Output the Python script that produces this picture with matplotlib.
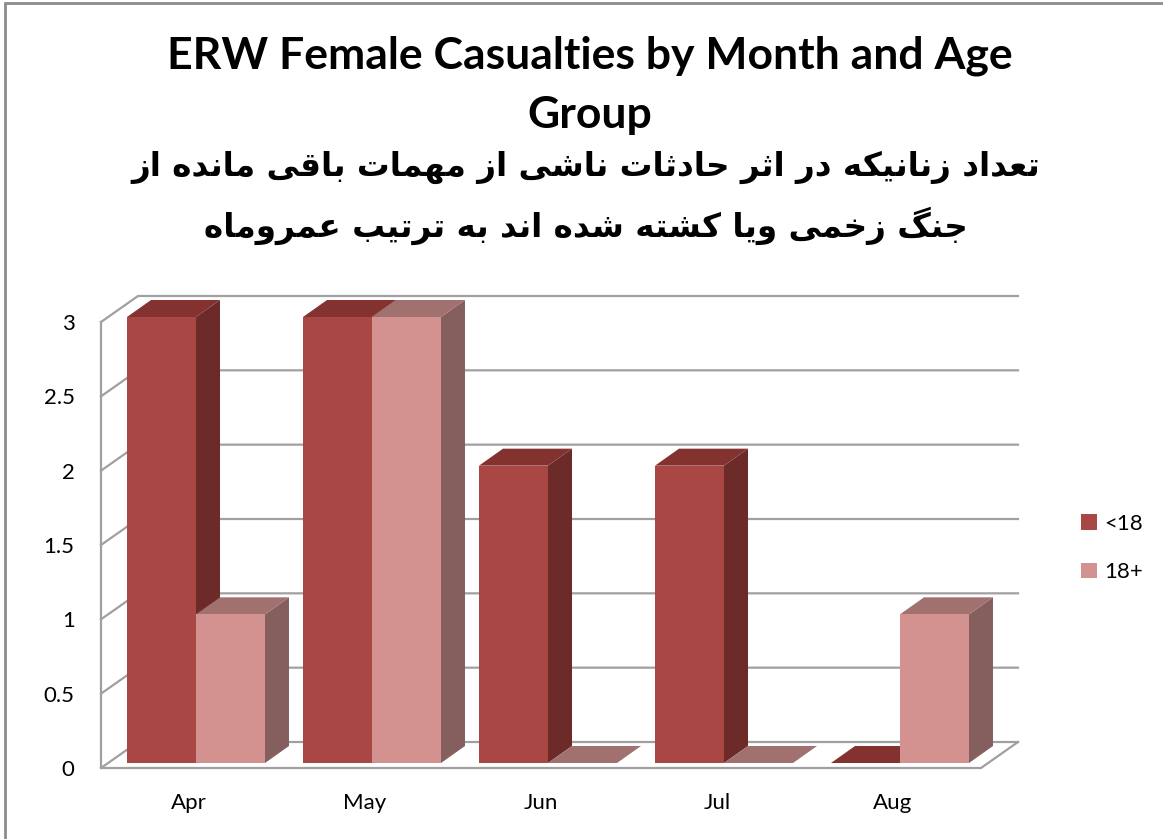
import matplotlib
matplotlib.use('Agg')
import matplotlib.pyplot as plt
from matplotlib.patches import Polygon, Rectangle, Patch

meseci = ['Apr', 'May', 'Jun', 'Jul', 'Aug']
ispod_18 = [3, 3, 2, 2, 0]
preko_18 = [1, 3, 0, 0, 1]
serije = ['<18', '18+']
y_tikovi = [0, 0.5, 1, 1.5, 2, 2.5, 3]
y_oznake = ['0', '0.5', '1', '1.5', '2', '2.5', '3']

naslov_en = ['ERW Female Casualties by Month and Age', 'Group']
naslov_fa = ['تعداد زنانیکه در اثر حادثات ناشی از مهمات باقی مانده از',
             'جنگ زخمی ویا کشته شده اند به ترتیب عمروماه']

# boje: (prednja strana, bocna strana, gornja strana)
boje = [('#A94744', '#6C2A28', '#84322F'),
        ('#D39190', '#855F5E', '#A0716F')]
siva = '#A0A0A0'

# oblici arapskih slova: izolovano, krajnje, pocetno, srednje
OBLICI = {
    'ا': ('\uFE8D', '\uFE8E', None, None),
    'ب': ('\uFE8F', '\uFE90', '\uFE91', '\uFE92'),
    'ت': ('\uFE95', '\uFE96', '\uFE97', '\uFE98'),
    'ث': ('\uFE99', '\uFE9A', '\uFE9B', '\uFE9C'),
    'ج': ('\uFE9D', '\uFE9E', '\uFE9F', '\uFEA0'),
    'ح': ('\uFEA1', '\uFEA2', '\uFEA3', '\uFEA4'),
    'خ': ('\uFEA5', '\uFEA6', '\uFEA7', '\uFEA8'),
    'د': ('\uFEA9', '\uFEAA', None, None),
    'ر': ('\uFEAD', '\uFEAE', None, None),
    'ز': ('\uFEAF', '\uFEB0', None, None),
    'ش': ('\uFEB5', '\uFEB6', '\uFEB7', '\uFEB8'),
    'ع': ('\uFEC9', '\uFECA', '\uFECB', '\uFECC'),
    'ق': ('\uFED5', '\uFED6', '\uFED7', '\uFED8'),
    'ک': ('\uFB8E', '\uFB8F', '\uFB90', '\uFB91'),
    'گ': ('\uFB92', '\uFB93', '\uFB94', '\uFB95'),
    'م': ('\uFEE1', '\uFEE2', '\uFEE3', '\uFEE4'),
    'ن': ('\uFEE5', '\uFEE6', '\uFEE7', '\uFEE8'),
    'ه': ('\uFEE9', '\uFEEA', '\uFEEB', '\uFEEC'),
    'و': ('\uFEED', '\uFEEE', None, None),
    'ی': ('\uFBFC', '\uFBFD', '\uFBFE', '\uFBFF'),
}


# Spaja slova i okrece red (matplotlib ne radi RTL sam)
def oblikuj(tekst):
    izlaz = []
    for i, c in enumerate(tekst):
        if c not in OBLICI:
            izlaz.append(c)
            continue
        pre = tekst[i - 1] if i > 0 else ' '
        posle = tekst[i + 1] if i + 1 < len(tekst) else ' '
        veza_pre = pre in OBLICI and OBLICI[pre][2] is not None
        veza_posle = posle in OBLICI and OBLICI[c][2] is not None
        if veza_pre and veza_posle:
            izlaz.append(OBLICI[c][3])
        elif veza_pre:
            izlaz.append(OBLICI[c][1])
        elif veza_posle:
            izlaz.append(OBLICI[c][2])
        else:
            izlaz.append(OBLICI[c][0])
    return ''.join(izlaz)[::-1]


W, H = 1163, 839
fig = plt.figure(figsize=(W / 100, H / 100), dpi=100)
ax = fig.add_axes([101 / W, 1 - 768 / H, 880 / W, 446 / H])
ax.set_xlim(-0.5, len(meseci) - 0.5)
ax.set_ylim(0, 3)
for s in ax.spines.values():
    s.set_visible(False)

px_x = 880 / len(meseci)  # piksela po kategoriji
px_y = 446 / 3  # piksela po jedinici
zid_dx, zid_dy = 37 / px_x, 26 / px_y  # dubina zida
pom_dx, pom_dy = 7 / px_x, 5 / px_y  # pomeraj stubica od ivice
dub_dx, dub_dy = 24 / px_x, 17 / px_y  # dubina stubica
sirina = 69 / px_x

x_lev, x_des = -0.5, len(meseci) - 0.5
# mreza na levom i zadnjem zidu
for v in y_tikovi:
    ax.plot([x_lev, x_lev + zid_dx, x_des + zid_dx], [v, v + zid_dy, v + zid_dy],
            color=siva, lw=1.6, clip_on=False, zorder=1)
ax.plot([x_lev, x_lev, x_des, x_des + zid_dx], [3, 0, 0, zid_dy],
        color=siva, lw=1.6, clip_on=False, zorder=1)


# Crta jedan kvadar (prednja, bocna i gornja strana)
def kvadar(x, h, boja, z):
    x = x + pom_dx
    y0 = pom_dy
    bok = [(x + sirina, y0), (x + sirina + dub_dx, y0 + dub_dy),
           (x + sirina + dub_dx, y0 + dub_dy + h), (x + sirina, y0 + h)]
    vrh = [(x, y0 + h), (x + sirina, y0 + h),
           (x + sirina + dub_dx, y0 + h + dub_dy), (x + dub_dx, y0 + h + dub_dy)]
    ax.add_patch(Polygon(bok, closed=True, fc=boja[1], ec='none', clip_on=False, zorder=z))
    ax.add_patch(Polygon(vrh, closed=True, fc=boja[2], ec='none', clip_on=False, zorder=z))
    if h > 0:
        ax.bar(x, h, width=sirina, bottom=y0, align='edge', color=boja[0],
               clip_on=False, zorder=z)


z = 2
for i in range(len(meseci)):
    kvadar(i - sirina, ispod_18[i], boje[0], z)
    kvadar(i, preko_18[i], boje[1], z + 1)
    z += 2

ax.set_xticks(range(len(meseci)), meseci)
ax.set_yticks(y_tikovi, y_oznake)
ax.tick_params(axis='both', length=0, labelsize=16)
ax.tick_params(axis='y', pad=19)
ax.tick_params(axis='x', pad=18)
for t in ax.get_xticklabels() + ax.get_yticklabels():
    t.set_fontfamily(['Lato', 'DejaVu Sans'])

rucke = [Patch(fc=boje[j][0], ec='none') for j in range(2)]
fig.legend(rucke, serije, loc='center left', bbox_to_anchor=(1081 / W, 1 - 548 / H),
           frameon=False, prop={'family': 'Lato', 'size': 16},
           handlelength=0.7, handleheight=0.7, handletextpad=0.35,
           labelspacing=1.3, borderpad=0, borderaxespad=0)

# naslovi
for red, y in zip(naslov_en, [56, 115]):
    fig.text(0.507, 1 - y / H, red, ha='center', va='center', fontsize=32,
             fontweight='bold', family=['Lato', 'DejaVu Sans'])
for red, y in zip(naslov_fa, [167, 226]):
    fig.text(0.504, 1 - y / H, oblikuj(red), ha='center', va='center', fontsize=23.5,
             fontweight='bold', family='DejaVu Sans')

# okvir grafikona
fig.add_artist(Rectangle((5 / W, -0.05), 1.1, 1.05 - 3 / H, transform=fig.transFigure,
                         fill=False, ec='#8C8C8C', lw=2))

fig.savefig('out.png', dpi=100)
